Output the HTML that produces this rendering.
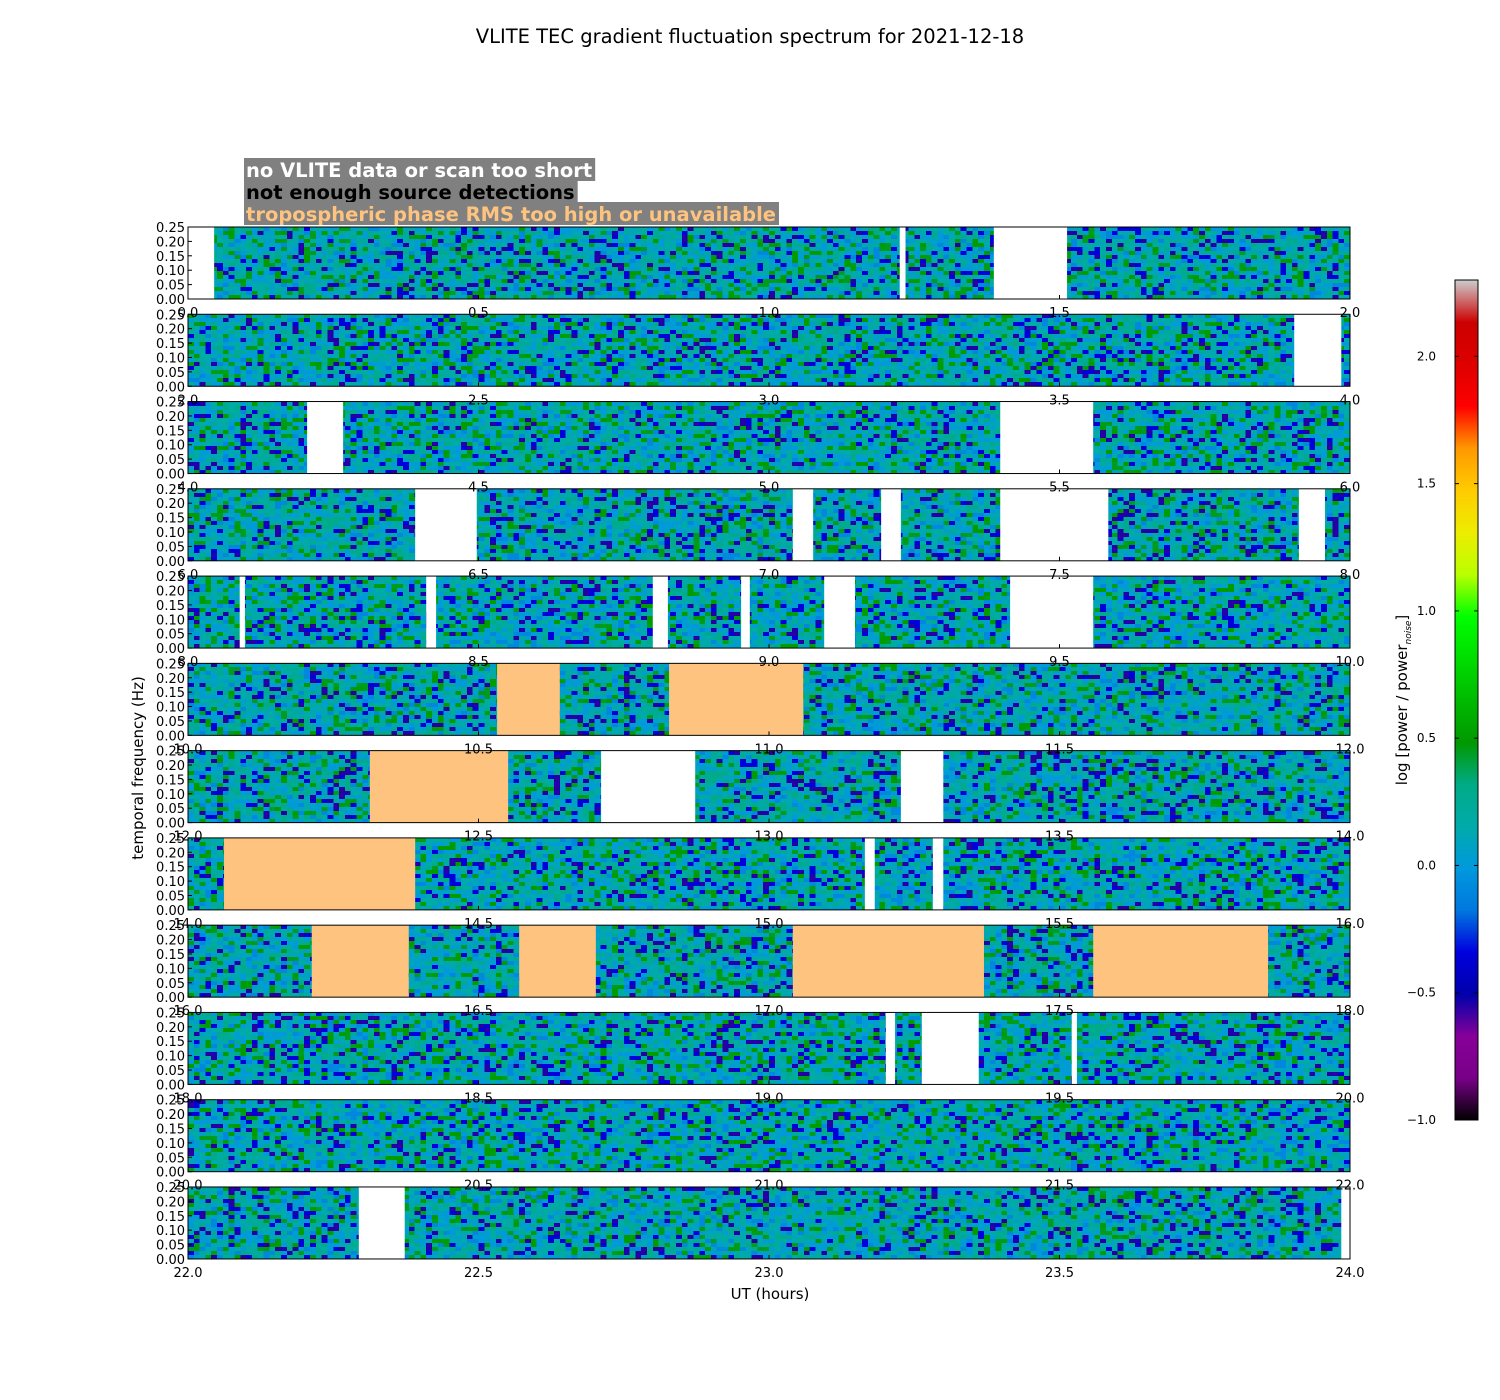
<!DOCTYPE html>
<html><head><meta charset="utf-8"><style>
body{margin:0;background:#fff;font-family:"DejaVu Sans","Liberation Sans",sans-serif;}
#wrap{position:relative;width:1500px;height:1400px;overflow:hidden;}
svg text{font-family:"DejaVu Sans","Liberation Sans",sans-serif;}
</style></head><body>
<div id="wrap">
<svg id="svg" width="1500" height="1400" style="position:absolute;left:0;top:0"></svg>
</div>
<script>
// ---- data ----
const panelStarts = [0,2,4,6,8,10,12,14,16,18,20,22];
const yTicks = [0.00,0.05,0.10,0.15,0.20,0.25];
const xTickOffsets = [0.0,0.5,1.0,1.5,2.0];
const cbTicks = [-1.0,-0.5,0.0,0.5,1.0,1.5,2.0];
const whiteGaps = [[0,0.045],[1.225,1.235],[1.387,1.513],[3.904,3.985],[4.205,4.267],[5.398,5.558],
 [6.391,6.497],[7.041,7.076],[7.193,7.227],[7.398,7.584],[7.912,7.957],
 [8.089,8.098],[8.41,8.427],[8.8,8.826],[8.952,8.967],[9.095,9.148],[9.415,9.558],
 [12.711,12.873],[13.227,13.3],[15.165,15.182],[15.282,15.3],
 [19.201,19.217],[19.263,19.361],[19.521,19.53],[22.294,22.373],[23.985,24.0]];
const orangeGaps = [[10.532,10.64],[10.828,11.059],[12.313,12.551],[14.062,14.391],
 [16.213,16.38],[16.57,16.702],[17.041,17.37],[17.558,17.859]];
const vmin=-1.0, vmax=2.3;

const X0=188, PW=1162, PH=72, Y0=227, DY=87.27;
const NS='http://www.w3.org/2000/svg';
const svg=document.getElementById('svg');
const wrap=document.getElementById('wrap');
function mk(tag,attrs,parent){const e=document.createElementNS(NS,tag);for(const k in attrs)e.setAttribute(k,attrs[k]);(parent||svg).appendChild(e);return e;}
const xScale=(t,p)=>X0+(t-panelStarts[p])/2*PW;
const yScale=(f,p)=>Y0+p*DY+PH-(f/0.25)*PH;

const stops=[[0,0,0,0],[.05,.47,0,.53],[.1,.53,0,.6],[.15,0,0,.67],[.2,0,0,.87],[.25,0,.47,.87],[.3,0,.6,.87],[.35,0,.67,.67],[.4,0,.67,.53],[.45,0,.6,0],[.5,0,.73,0],[.55,0,.87,0],[.6,0,1,0],[.65,.73,1,0],[.7,.93,.93,0],[.75,1,.8,0],[.8,1,.6,0],[.85,1,0,0],[.9,.87,0,0],[.95,.8,0,0],[1,.8,.8,.8]];
function cmap(v){let s=(v-vmin)/(vmax-vmin);s=Math.max(0,Math.min(1,s));
 for(let i=1;i<stops.length;i++){if(s<=stops[i][0]){const a=stops[i-1],b=stops[i],f=(s-a[0])/(b[0]-a[0]);
 return [0,1,2].map(j=>Math.round(255*(a[j+1]+(b[j+1]-a[j+1])*f)));}}return [204,204,204];}

// decorative spectrogram texture (deterministic)
let seed=12345;function rnd(){seed=(seed*1103515245+12345)&0x7fffffff;return seed/0x7fffffff;}
const levels=[-0.55,-0.35,-0.1,0.0,0.02,0.05,0.1,0.15,0.18,0.2,0.25,0.3,0.45,0.5];
panelStarts.forEach((st,p)=>{
 const c=document.createElement('canvas');c.width=200;c.height=18;
 c.style.cssText=`position:absolute;left:${X0}px;top:${Y0+p*DY}px;width:${PW}px;height:${PH}px;image-rendering:pixelated`;
 
 
 const ctx=c.getContext('2d');const img=ctx.createImageData(200,18);
 for(let y=0;y<18;y++)for(let x=0;x<200;x++){const v=levels[Math.floor(rnd()*levels.length)];const col=cmap(v);const i=(y*200+x)*4;img.data[i]=col[0];img.data[i+1]=col[1];img.data[i+2]=col[2];img.data[i+3]=255;}
 ctx.putImageData(img,0,0);wrap.insertBefore(c,svg);
});

function drawGaps(list,color,name){list.forEach(g=>{const p=Math.min(11,Math.floor(g[0]/2));
 const r=mk('rect',{x:xScale(g[0],p),y:Y0+p*DY,width:Math.max(1,xScale(g[1],p)-xScale(g[0],p)),height:PH,fill:color});
 
 });}
drawGaps(whiteGaps,'#ffffff','no-data-gap');
drawGaps(orangeGaps,'#fdc37f','tropospheric-rms-gap');

panelStarts.forEach((st,p)=>{
 const top=Y0+p*DY;
 const fr=mk('rect',{x:X0,y:top,width:PW,height:PH,fill:'none',stroke:'#000','stroke-width':1});
 
 
 yTicks.forEach(f=>{const y=yScale(f,p);
  mk('line',{x1:X0,x2:X0+4,y1:y,y2:y,stroke:'#000'});
  const t=mk('text',{x:X0-3,y:y+5,'text-anchor':'end','font-size':13});t.textContent=f.toFixed(2);
  
  });
 xTickOffsets.forEach(o=>{const x=xScale(st+o,p);
  mk('line',{x1:x,x2:x,y1:top+PH,y2:top+PH-4,stroke:'#000'});
  const t=mk('text',{x:x,y:top+PH+18,'text-anchor':'middle','font-size':13});t.textContent=(st+o).toFixed(1);
  
  });
});

function txt(s,attrs,name){const t=mk('text',attrs);t.textContent=s;return t;}
txt('VLITE TEC gradient fluctuation spectrum for 2021-12-18',{x:750,y:43,'text-anchor':'middle','font-size':19.5},'chart-title');
txt('UT (hours)',{x:770,y:1299,'text-anchor':'middle','font-size':15},'x-axis-title');
txt('temporal frequency (Hz)',{x:0,y:0,'text-anchor':'middle','font-size':15,transform:'translate(143,768) rotate(-90)'},'y-axis-title');

const leg=[['no VLITE data or scan too short','#ffffff',170],['not enough source detections','#000000',192],['tropospheric phase RMS too high or unavailable','#fdc37f',214]];
leg.forEach(l=>{const r=mk('rect',{x:244,y:l[2]-12,width:300,height:23,fill:'#808080'});
 
 const t=txt(l[0],{x:246,y:l[2]+7,'font-size':19.5,'font-weight':'bold',fill:l[1]},'legend-entry');
 try{const w=t.getComputedTextLength();r.setAttribute('width',w+5);}catch(e){}
});

const cb=document.createElement('canvas');cb.width=1;cb.height=840;
cb.style.cssText='position:absolute;left:1455px;top:280px;width:23px;height:840px';


const cx=cb.getContext('2d');for(let i=0;i<840;i++){const v=vmax-(i/840)*(vmax-vmin);const c=cmap(v);cx.fillStyle=`rgb(${c})`;cx.fillRect(0,i,1,1);}
wrap.insertBefore(cb,svg);
mk('rect',{x:1455,y:280,width:23,height:840,fill:'none',stroke:'#000'});
const cbY=v=>1120-(v-vmin)/(vmax-vmin)*840;
cbTicks.forEach(v=>{const y=cbY(v);mk('line',{x1:1474,x2:1478,y1:y,y2:y,stroke:'#000'});mk('line',{x1:1455,x2:1459,y1:y,y2:y,stroke:'#000'});
 txt((v<0?'\u2212':'')+Math.abs(v).toFixed(1),{x:1436,y:y+4,'text-anchor':'end','font-size':12},'colorbar-tick-label');});
const cl=txt('',{x:0,y:0,'text-anchor':'middle','font-size':15,transform:'translate(1407,700) rotate(-90)'},'colorbar-title');
cl.innerHTML='log [power / power<tspan font-size="9" dy="4" font-style="italic">noise</tspan><tspan dy="-4">]</tspan>';
</script>
</body></html>
